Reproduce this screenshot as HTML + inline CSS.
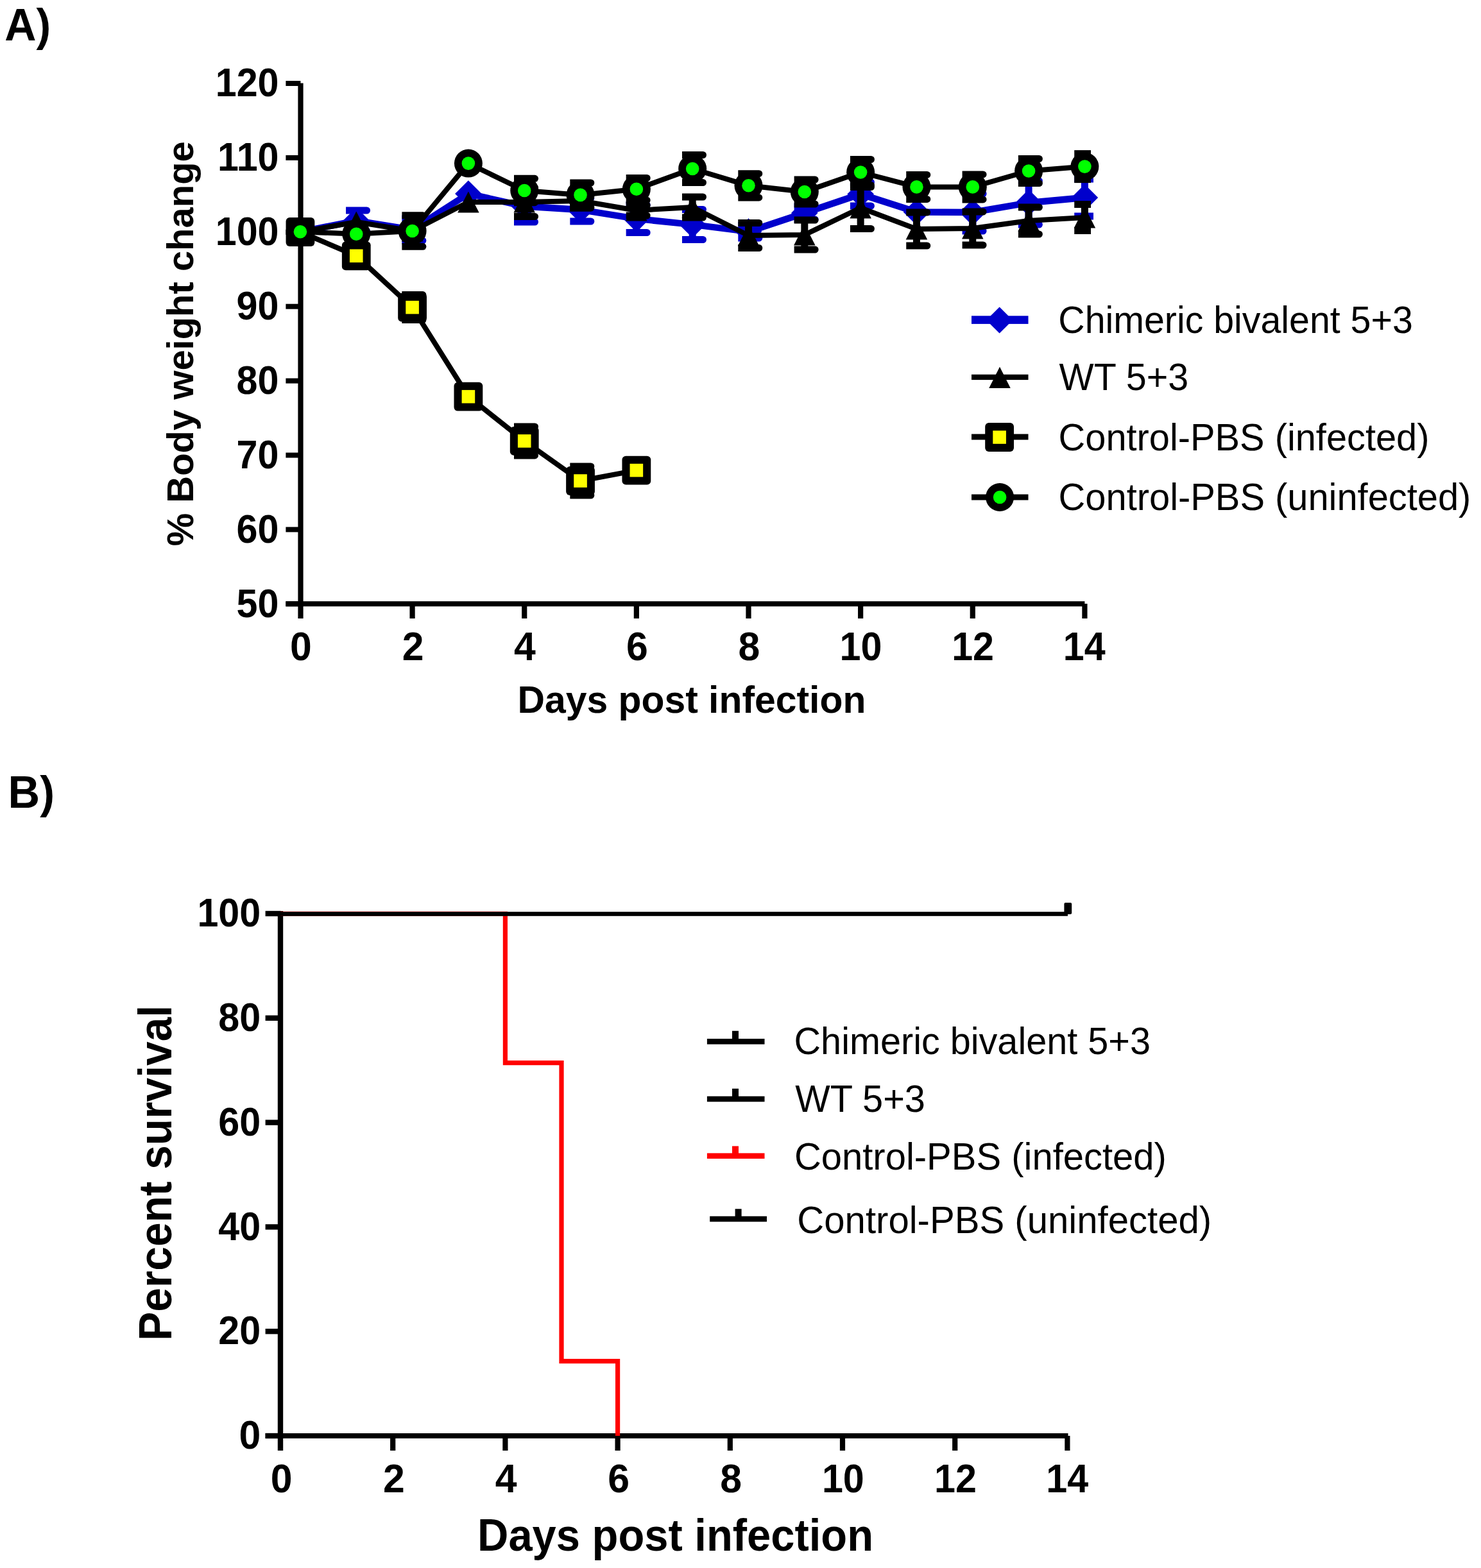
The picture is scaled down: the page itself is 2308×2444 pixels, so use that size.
<!DOCTYPE html>
<html><head><meta charset="utf-8"><title>Body weight and survival</title>
<style>html,body{margin:0;padding:0;background:#fff;}svg{display:block;}text{font-family:"Liberation Sans",Arial,sans-serif;fill:#000;}.b{font-weight:bold;}</style></head><body>
<svg width="2308" height="2444" viewBox="0 0 2308 2444">
<rect width="2308" height="2444" fill="#fff"/>
<text class="b" font-size="70" transform="translate(7.3 62.7) scale(0.9738 1)">A)</text>
<g fill="#000">
<rect x="464.4" y="129.6" width="8.2" height="834.4"/>
<rect x="445.4" y="937.2" width="1245" height="8"/>
<rect x="445.4" y="126" width="23" height="8"/>
<rect x="445.4" y="241.9" width="23" height="8"/>
<rect x="445.4" y="357.8" width="23" height="8"/>
<rect x="445.4" y="473.7" width="23" height="8"/>
<rect x="445.4" y="589.6" width="23" height="8"/>
<rect x="445.4" y="705.5" width="23" height="8"/>
<rect x="445.4" y="821.4" width="23" height="8"/>
<rect x="445.4" y="937.3" width="23" height="8"/>
<rect x="638.48" y="941" width="8.2" height="23"/>
<rect x="813.12" y="941" width="8.2" height="23"/>
<rect x="987.76" y="941" width="8.2" height="23"/>
<rect x="1162.4" y="941" width="8.2" height="23"/>
<rect x="1337.04" y="941" width="8.2" height="23"/>
<rect x="1511.68" y="941" width="8.2" height="23"/>
<rect x="1686.32" y="941" width="8.2" height="23"/>
</g>
<text class="b" font-size="63.5" transform="translate(335.73 150.3) scale(0.9325 1)">120</text>
<text class="b" font-size="63.5" transform="translate(338.99 266.2) scale(0.9325 1)">110</text>
<text class="b" font-size="63.5" transform="translate(335.73 382.1) scale(0.9325 1)">100</text>
<text class="b" font-size="63.5" transform="translate(368.59 498) scale(0.9325 1)">90</text>
<text class="b" font-size="63.5" transform="translate(368.59 613.9) scale(0.9325 1)">80</text>
<text class="b" font-size="63.5" transform="translate(368.59 729.8) scale(0.9325 1)">70</text>
<text class="b" font-size="63.5" transform="translate(368.59 845.7) scale(0.9325 1)">60</text>
<text class="b" font-size="63.5" transform="translate(368.59 961.6) scale(0.9325 1)">50</text>
<text class="b" font-size="63.5" transform="translate(452.08 1029.4) scale(0.9570 1)">0</text>
<text class="b" font-size="63.5" transform="translate(626.87 1029.4) scale(0.9570 1)">2</text>
<text class="b" font-size="63.5" transform="translate(801.05 1029.4) scale(0.9570 1)">4</text>
<text class="b" font-size="63.5" transform="translate(975.92 1029.4) scale(0.9570 1)">6</text>
<text class="b" font-size="63.5" transform="translate(1150.56 1029.4) scale(0.9570 1)">8</text>
<text class="b" font-size="63.5" transform="translate(1308.54 1029.4) scale(0.9325 1)">10</text>
<text class="b" font-size="63.5" transform="translate(1483.18 1029.4) scale(0.9325 1)">12</text>
<text class="b" font-size="63.5" transform="translate(1656.78 1029.4) scale(0.9325 1)">14</text>
<text class="b" font-size="58" transform="translate(300.5 851.25) rotate(-90) scale(0.9991 1)">% Body weight change</text>
<text class="b" font-size="59.8" transform="translate(806.43 1111) scale(0.9846 1)">Days post infection</text>
<g>
<rect x="549.76" y="328" width="11" height="32" fill="#0000cc"/>
<path d="M539.06 322.5H571.56A5.5 5.5 0 0 1 571.56 333.5H539.06Z" fill="#0000cc"/>
<path d="M539.06 354.5H571.56A5.5 5.5 0 0 1 571.56 365.5H539.06Z" fill="#0000cc"/>
<rect x="637.08" y="341" width="11" height="34" fill="#0000cc"/>
<path d="M626.38 335.5H658.88A5.5 5.5 0 0 1 658.88 346.5H626.38Z" fill="#0000cc"/>
<path d="M626.38 369.5H658.88A5.5 5.5 0 0 1 658.88 380.5H626.38Z" fill="#0000cc"/>
<rect x="811.72" y="297" width="11" height="49" fill="#0000cc"/>
<path d="M801.02 291.5H833.52A5.5 5.5 0 0 1 833.52 302.5H801.02Z" fill="#0000cc"/>
<path d="M801.02 340.5H833.52A5.5 5.5 0 0 1 833.52 351.5H801.02Z" fill="#0000cc"/>
<rect x="899.04" y="309" width="11" height="36" fill="#0000cc"/>
<path d="M888.34 303.5H920.84A5.5 5.5 0 0 1 920.84 314.5H888.34Z" fill="#0000cc"/>
<path d="M888.34 339.5H920.84A5.5 5.5 0 0 1 920.84 350.5H888.34Z" fill="#0000cc"/>
<rect x="986.36" y="319.5" width="11" height="43" fill="#0000cc"/>
<path d="M975.66 314H1008.16A5.5 5.5 0 0 1 1008.16 325H975.66Z" fill="#0000cc"/>
<path d="M975.66 357H1008.16A5.5 5.5 0 0 1 1008.16 368H975.66Z" fill="#0000cc"/>
<rect x="1073.68" y="326.5" width="11" height="47" fill="#0000cc"/>
<path d="M1062.98 321H1095.48A5.5 5.5 0 0 1 1095.48 332H1062.98Z" fill="#0000cc"/>
<path d="M1062.98 368H1095.48A5.5 5.5 0 0 1 1095.48 379H1062.98Z" fill="#0000cc"/>
<rect x="1161" y="351" width="11" height="20" fill="#0000cc"/>
<path d="M1150.3 345.5H1182.8A5.5 5.5 0 0 1 1182.8 356.5H1150.3Z" fill="#0000cc"/>
<path d="M1150.3 365.5H1182.8A5.5 5.5 0 0 1 1182.8 376.5H1150.3Z" fill="#0000cc"/>
<rect x="1248.32" y="322" width="11" height="20" fill="#0000cc"/>
<path d="M1237.62 316.5H1270.12A5.5 5.5 0 0 1 1270.12 327.5H1237.62Z" fill="#0000cc"/>
<path d="M1237.62 336.5H1270.12A5.5 5.5 0 0 1 1270.12 347.5H1237.62Z" fill="#0000cc"/>
<rect x="1335.64" y="284" width="11" height="37" fill="#0000cc"/>
<path d="M1324.94 278.5H1357.44A5.5 5.5 0 0 1 1357.44 289.5H1324.94Z" fill="#0000cc"/>
<path d="M1324.94 315.5H1357.44A5.5 5.5 0 0 1 1357.44 326.5H1324.94Z" fill="#0000cc"/>
<rect x="1510.28" y="302" width="11" height="58" fill="#0000cc"/>
<path d="M1499.58 296.5H1532.08A5.5 5.5 0 0 1 1532.08 307.5H1499.58Z" fill="#0000cc"/>
<path d="M1499.58 354.5H1532.08A5.5 5.5 0 0 1 1532.08 365.5H1499.58Z" fill="#0000cc"/>
<rect x="1597.6" y="282" width="11" height="68" fill="#0000cc"/>
<path d="M1586.9 276.5H1619.4A5.5 5.5 0 0 1 1619.4 287.5H1586.9Z" fill="#0000cc"/>
<path d="M1586.9 344.5H1619.4A5.5 5.5 0 0 1 1619.4 355.5H1586.9Z" fill="#0000cc"/>
<rect x="1684.92" y="279" width="11" height="58" fill="#0000cc"/>
<rect x="1674.22" y="273.5" width="29.78" height="11" fill="#0000cc"/>
<rect x="1674.22" y="331.5" width="29.78" height="11" fill="#0000cc"/>
<polyline points="467.94,361.5 555.26,344 642.58,358 729.9,302 817.22,321.5 904.54,327 991.86,341 1079.18,350 1166.5,361 1253.82,332 1341.14,302.5 1428.46,330.5 1515.78,331 1603.1,316 1690.42,308" fill="none" stroke="#0000cc" stroke-width="10.3" stroke-linejoin="round"/>
<path d="M467.94 340.7L488.74 361.5L467.94 382.3L447.14 361.5Z" fill="#0000cc"/>
<path d="M555.26 323.2L576.06 344L555.26 364.8L534.46 344Z" fill="#0000cc"/>
<path d="M642.58 337.2L663.38 358L642.58 378.8L621.78 358Z" fill="#0000cc"/>
<path d="M729.9 281.2L750.7 302L729.9 322.8L709.1 302Z" fill="#0000cc"/>
<path d="M817.22 300.7L838.02 321.5L817.22 342.3L796.42 321.5Z" fill="#0000cc"/>
<path d="M904.54 306.2L925.34 327L904.54 347.8L883.74 327Z" fill="#0000cc"/>
<path d="M991.86 320.2L1012.66 341L991.86 361.8L971.06 341Z" fill="#0000cc"/>
<path d="M1079.18 329.2L1099.98 350L1079.18 370.8L1058.38 350Z" fill="#0000cc"/>
<path d="M1166.5 340.2L1187.3 361L1166.5 381.8L1145.7 361Z" fill="#0000cc"/>
<path d="M1253.82 311.2L1274.62 332L1253.82 352.8L1233.02 332Z" fill="#0000cc"/>
<path d="M1341.14 281.7L1361.94 302.5L1341.14 323.3L1320.34 302.5Z" fill="#0000cc"/>
<path d="M1428.46 309.7L1449.26 330.5L1428.46 351.3L1407.66 330.5Z" fill="#0000cc"/>
<path d="M1515.78 310.2L1536.58 331L1515.78 351.8L1494.98 331Z" fill="#0000cc"/>
<path d="M1603.1 295.2L1623.9 316L1603.1 336.8L1582.3 316Z" fill="#0000cc"/>
<path d="M1690.42 287.2L1711.22 308L1690.42 328.8L1669.62 308Z" fill="#0000cc"/>
</g>
<g>
<rect x="637.08" y="335.7" width="11" height="48.6" fill="#000"/>
<path d="M626.38 330.2H658.88A5.5 5.5 0 0 1 658.88 341.2H626.38Z" fill="#000"/>
<path d="M626.38 378.8H658.88A5.5 5.5 0 0 1 658.88 389.8H626.38Z" fill="#000"/>
<rect x="811.72" y="292.5" width="11" height="45" fill="#000"/>
<path d="M801.02 287H833.52A5.5 5.5 0 0 1 833.52 298H801.02Z" fill="#000"/>
<path d="M801.02 332H833.52A5.5 5.5 0 0 1 833.52 343H801.02Z" fill="#000"/>
<rect x="899.04" y="302" width="11" height="22" fill="#000"/>
<path d="M888.34 296.5H920.84A5.5 5.5 0 0 1 920.84 307.5H888.34Z" fill="#000"/>
<path d="M888.34 318.5H920.84A5.5 5.5 0 0 1 920.84 329.5H888.34Z" fill="#000"/>
<rect x="986.36" y="320" width="11" height="16" fill="#000"/>
<path d="M975.66 314.5H1008.16A5.5 5.5 0 0 1 1008.16 325.5H975.66Z" fill="#000"/>
<path d="M975.66 330.5H1008.16A5.5 5.5 0 0 1 1008.16 341.5H975.66Z" fill="#000"/>
<rect x="1073.68" y="307" width="11" height="32" fill="#000"/>
<path d="M1062.98 301.5H1095.48A5.5 5.5 0 0 1 1095.48 312.5H1062.98Z" fill="#000"/>
<path d="M1062.98 333.5H1095.48A5.5 5.5 0 0 1 1095.48 344.5H1062.98Z" fill="#000"/>
<rect x="1161" y="347.5" width="11" height="39" fill="#000"/>
<path d="M1150.3 342H1182.8A5.5 5.5 0 0 1 1182.8 353H1150.3Z" fill="#000"/>
<path d="M1150.3 381H1182.8A5.5 5.5 0 0 1 1182.8 392H1150.3Z" fill="#000"/>
<rect x="1248.32" y="343" width="11" height="46" fill="#000"/>
<path d="M1237.62 337.5H1270.12A5.5 5.5 0 0 1 1270.12 348.5H1237.62Z" fill="#000"/>
<path d="M1237.62 383.5H1270.12A5.5 5.5 0 0 1 1270.12 394.5H1237.62Z" fill="#000"/>
<rect x="1335.64" y="291.5" width="11" height="65" fill="#000"/>
<path d="M1324.94 286H1357.44A5.5 5.5 0 0 1 1357.44 297H1324.94Z" fill="#000"/>
<path d="M1324.94 351H1357.44A5.5 5.5 0 0 1 1357.44 362H1324.94Z" fill="#000"/>
<rect x="1422.96" y="331" width="11" height="52" fill="#000"/>
<path d="M1412.26 325.5H1444.76A5.5 5.5 0 0 1 1444.76 336.5H1412.26Z" fill="#000"/>
<path d="M1412.26 377.5H1444.76A5.5 5.5 0 0 1 1444.76 388.5H1412.26Z" fill="#000"/>
<rect x="1510.28" y="330" width="11" height="52" fill="#000"/>
<path d="M1499.58 324.5H1532.08A5.5 5.5 0 0 1 1532.08 335.5H1499.58Z" fill="#000"/>
<path d="M1499.58 376.5H1532.08A5.5 5.5 0 0 1 1532.08 387.5H1499.58Z" fill="#000"/>
<rect x="1597.6" y="323" width="11" height="42" fill="#000"/>
<path d="M1586.9 317.5H1619.4A5.5 5.5 0 0 1 1619.4 328.5H1586.9Z" fill="#000"/>
<path d="M1586.9 359.5H1619.4A5.5 5.5 0 0 1 1619.4 370.5H1586.9Z" fill="#000"/>
<rect x="1684.92" y="318.5" width="11" height="41" fill="#000"/>
<rect x="1674.22" y="313" width="25.78" height="11" fill="#000"/>
<rect x="1674.22" y="354" width="25.78" height="11" fill="#000"/>
<polyline points="467.94,361.5 555.26,346 642.58,360 729.9,315 817.22,315 904.54,313 991.86,328 1079.18,323 1166.5,367 1253.82,366 1341.14,324 1428.46,357 1515.78,356 1603.1,344 1690.42,339" fill="none" stroke="#000" stroke-width="8" stroke-linejoin="round"/>
<path d="M467.94 345L484.69 378L451.19 378Z" fill="#000"/>
<path d="M555.26 329.5L572.01 362.5L538.51 362.5Z" fill="#000"/>
<path d="M642.58 343.5L659.33 376.5L625.83 376.5Z" fill="#000"/>
<path d="M729.9 298.5L746.65 331.5L713.15 331.5Z" fill="#000"/>
<path d="M817.22 298.5L833.97 331.5L800.47 331.5Z" fill="#000"/>
<path d="M904.54 296.5L921.29 329.5L887.79 329.5Z" fill="#000"/>
<path d="M991.86 311.5L1008.61 344.5L975.11 344.5Z" fill="#000"/>
<path d="M1079.18 306.5L1095.93 339.5L1062.43 339.5Z" fill="#000"/>
<path d="M1166.5 350.5L1183.25 383.5L1149.75 383.5Z" fill="#000"/>
<path d="M1253.82 349.5L1270.57 382.5L1237.07 382.5Z" fill="#000"/>
<path d="M1341.14 307.5L1357.89 340.5L1324.39 340.5Z" fill="#000"/>
<path d="M1428.46 340.5L1445.21 373.5L1411.71 373.5Z" fill="#000"/>
<path d="M1515.78 339.5L1532.53 372.5L1499.03 372.5Z" fill="#000"/>
<path d="M1603.1 327.5L1619.85 360.5L1586.35 360.5Z" fill="#000"/>
<path d="M1690.42 322.5L1707.17 355.5L1673.67 355.5Z" fill="#000"/>
</g>
<g>
<rect x="549.76" y="390.8" width="11" height="16" fill="#000"/>
<path d="M539.06 385.3H571.56A5.5 5.5 0 0 1 571.56 396.3H539.06Z" fill="#000"/>
<path d="M539.06 401.3H571.56A5.5 5.5 0 0 1 571.56 412.3H539.06Z" fill="#000"/>
<rect x="637.08" y="459.6" width="11" height="39" fill="#000"/>
<path d="M626.38 454.1H658.88A5.5 5.5 0 0 1 658.88 465.1H626.38Z" fill="#000"/>
<path d="M626.38 493.1H658.88A5.5 5.5 0 0 1 658.88 504.1H626.38Z" fill="#000"/>
<rect x="724.4" y="608.2" width="11" height="20" fill="#000"/>
<path d="M713.7 602.7H746.2A5.5 5.5 0 0 1 746.2 613.7H713.7Z" fill="#000"/>
<path d="M713.7 622.7H746.2A5.5 5.5 0 0 1 746.2 633.7H713.7Z" fill="#000"/>
<rect x="811.72" y="664.9" width="11" height="45" fill="#000"/>
<path d="M801.02 659.4H833.52A5.5 5.5 0 0 1 833.52 670.4H801.02Z" fill="#000"/>
<path d="M801.02 704.4H833.52A5.5 5.5 0 0 1 833.52 715.4H801.02Z" fill="#000"/>
<rect x="899.04" y="727" width="11" height="45" fill="#000"/>
<path d="M888.34 721.5H920.84A5.5 5.5 0 0 1 920.84 732.5H888.34Z" fill="#000"/>
<path d="M888.34 766.5H920.84A5.5 5.5 0 0 1 920.84 777.5H888.34Z" fill="#000"/>
<polyline points="467.94,361.5 555.26,398.8 642.58,479.1 729.9,618.2 817.22,687.4 904.54,749.5 991.86,733.1" fill="none" stroke="#000" stroke-width="8" stroke-linejoin="round"/>
<rect x="445.54" y="339.1" width="44.8" height="44.8" rx="5.8" fill="#000"/>
<rect x="457.64" y="351.2" width="20.6" height="20.6" fill="#ffff00"/>
<rect x="532.86" y="376.4" width="44.8" height="44.8" rx="5.8" fill="#000"/>
<rect x="544.96" y="388.5" width="20.6" height="20.6" fill="#ffff00"/>
<rect x="620.18" y="456.7" width="44.8" height="44.8" rx="5.8" fill="#000"/>
<rect x="632.28" y="468.8" width="20.6" height="20.6" fill="#ffff00"/>
<rect x="707.5" y="595.8" width="44.8" height="44.8" rx="5.8" fill="#000"/>
<rect x="719.6" y="607.9" width="20.6" height="20.6" fill="#ffff00"/>
<rect x="794.82" y="665" width="44.8" height="44.8" rx="5.8" fill="#000"/>
<rect x="806.92" y="677.1" width="20.6" height="20.6" fill="#ffff00"/>
<rect x="882.14" y="727.1" width="44.8" height="44.8" rx="5.8" fill="#000"/>
<rect x="894.24" y="739.2" width="20.6" height="20.6" fill="#ffff00"/>
<rect x="969.46" y="710.7" width="44.8" height="44.8" rx="5.8" fill="#000"/>
<rect x="981.56" y="722.8" width="20.6" height="20.6" fill="#ffff00"/>
</g>
<g>
<rect x="811.72" y="278.3" width="11" height="37.4" fill="#000"/>
<path d="M801.02 272.8H833.52A5.5 5.5 0 0 1 833.52 283.8H801.02Z" fill="#000"/>
<path d="M801.02 310.2H833.52A5.5 5.5 0 0 1 833.52 321.2H801.02Z" fill="#000"/>
<rect x="899.04" y="285" width="11" height="37.8" fill="#000"/>
<path d="M888.34 279.5H920.84A5.5 5.5 0 0 1 920.84 290.5H888.34Z" fill="#000"/>
<path d="M888.34 317.3H920.84A5.5 5.5 0 0 1 920.84 328.3H888.34Z" fill="#000"/>
<rect x="986.36" y="277.5" width="11" height="34.6" fill="#000"/>
<path d="M975.66 272H1008.16A5.5 5.5 0 0 1 1008.16 283H975.66Z" fill="#000"/>
<path d="M975.66 306.6H1008.16A5.5 5.5 0 0 1 1008.16 317.6H975.66Z" fill="#000"/>
<rect x="1073.68" y="241.5" width="11" height="43" fill="#000"/>
<path d="M1062.98 236H1095.48A5.5 5.5 0 0 1 1095.48 247H1062.98Z" fill="#000"/>
<path d="M1062.98 279H1095.48A5.5 5.5 0 0 1 1095.48 290H1062.98Z" fill="#000"/>
<rect x="1161" y="270.7" width="11" height="37.2" fill="#000"/>
<path d="M1150.3 265.2H1182.8A5.5 5.5 0 0 1 1182.8 276.2H1150.3Z" fill="#000"/>
<path d="M1150.3 302.4H1182.8A5.5 5.5 0 0 1 1182.8 313.4H1150.3Z" fill="#000"/>
<rect x="1248.32" y="280" width="11" height="38" fill="#000"/>
<path d="M1237.62 274.5H1270.12A5.5 5.5 0 0 1 1270.12 285.5H1237.62Z" fill="#000"/>
<path d="M1237.62 312.5H1270.12A5.5 5.5 0 0 1 1270.12 323.5H1237.62Z" fill="#000"/>
<rect x="1335.64" y="248.5" width="11" height="40" fill="#000"/>
<path d="M1324.94 243H1357.44A5.5 5.5 0 0 1 1357.44 254H1324.94Z" fill="#000"/>
<path d="M1324.94 283H1357.44A5.5 5.5 0 0 1 1357.44 294H1324.94Z" fill="#000"/>
<rect x="1422.96" y="272.4" width="11" height="38" fill="#000"/>
<path d="M1412.26 266.9H1444.76A5.5 5.5 0 0 1 1444.76 277.9H1412.26Z" fill="#000"/>
<path d="M1412.26 304.9H1444.76A5.5 5.5 0 0 1 1444.76 315.9H1412.26Z" fill="#000"/>
<rect x="1510.28" y="271.9" width="11" height="39" fill="#000"/>
<path d="M1499.58 266.4H1532.08A5.5 5.5 0 0 1 1532.08 277.4H1499.58Z" fill="#000"/>
<path d="M1499.58 305.4H1532.08A5.5 5.5 0 0 1 1532.08 316.4H1499.58Z" fill="#000"/>
<rect x="1597.6" y="247.5" width="11" height="38" fill="#000"/>
<path d="M1586.9 242H1619.4A5.5 5.5 0 0 1 1619.4 253H1586.9Z" fill="#000"/>
<path d="M1586.9 280H1619.4A5.5 5.5 0 0 1 1619.4 291H1586.9Z" fill="#000"/>
<rect x="1684.92" y="239.6" width="11" height="40" fill="#000"/>
<rect x="1674.22" y="234.1" width="25.78" height="11" fill="#000"/>
<rect x="1674.22" y="274.1" width="25.78" height="11" fill="#000"/>
<polyline points="467.94,361.3 555.26,364.7 642.58,360 729.9,254.6 817.22,297 904.54,303.9 991.86,294.8 1079.18,263 1166.5,289.3 1253.82,299 1341.14,268.5 1428.46,291.4 1515.78,291.4 1603.1,266.5 1690.42,259.6" fill="none" stroke="#000" stroke-width="8" stroke-linejoin="round"/>
<circle cx="467.94" cy="361.3" r="22" fill="#000"/>
<circle cx="467.94" cy="361.3" r="10.3" fill="#00ff00"/>
<circle cx="555.26" cy="364.7" r="22" fill="#000"/>
<circle cx="555.26" cy="364.7" r="10.3" fill="#00ff00"/>
<circle cx="642.58" cy="360" r="22" fill="#000"/>
<circle cx="642.58" cy="360" r="10.3" fill="#00ff00"/>
<circle cx="729.9" cy="254.6" r="22" fill="#000"/>
<circle cx="729.9" cy="254.6" r="10.3" fill="#00ff00"/>
<circle cx="817.22" cy="297" r="22" fill="#000"/>
<circle cx="817.22" cy="297" r="10.3" fill="#00ff00"/>
<circle cx="904.54" cy="303.9" r="22" fill="#000"/>
<circle cx="904.54" cy="303.9" r="10.3" fill="#00ff00"/>
<circle cx="991.86" cy="294.8" r="22" fill="#000"/>
<circle cx="991.86" cy="294.8" r="10.3" fill="#00ff00"/>
<circle cx="1079.18" cy="263" r="22" fill="#000"/>
<circle cx="1079.18" cy="263" r="10.3" fill="#00ff00"/>
<circle cx="1166.5" cy="289.3" r="22" fill="#000"/>
<circle cx="1166.5" cy="289.3" r="10.3" fill="#00ff00"/>
<circle cx="1253.82" cy="299" r="22" fill="#000"/>
<circle cx="1253.82" cy="299" r="10.3" fill="#00ff00"/>
<circle cx="1341.14" cy="268.5" r="22" fill="#000"/>
<circle cx="1341.14" cy="268.5" r="10.3" fill="#00ff00"/>
<circle cx="1428.46" cy="291.4" r="22" fill="#000"/>
<circle cx="1428.46" cy="291.4" r="10.3" fill="#00ff00"/>
<circle cx="1515.78" cy="291.4" r="22" fill="#000"/>
<circle cx="1515.78" cy="291.4" r="10.3" fill="#00ff00"/>
<circle cx="1603.1" cy="266.5" r="22" fill="#000"/>
<circle cx="1603.1" cy="266.5" r="10.3" fill="#00ff00"/>
<circle cx="1690.42" cy="259.6" r="22" fill="#000"/>
<circle cx="1690.42" cy="259.6" r="10.3" fill="#00ff00"/>
</g>
<rect x="1514" y="492.3" width="88.5" height="12.6" fill="#0000cc"/>
<path d="M1557.6 478.4L1578.2 499L1557.6 519.6L1537 499Z" fill="#0000cc"/>
<rect x="1514" y="583.7" width="88.5" height="8.4" fill="#000"/>
<path d="M1558 571.7L1574.75 605.1L1541.25 605.1Z" fill="#000"/>
<rect x="1514" y="676.5" width="88.5" height="9" fill="#000"/>
<rect x="1535.2" y="659.1" width="44.8" height="44.8" rx="5.8" fill="#000"/>
<rect x="1547.3" y="671.2" width="20.6" height="20.6" fill="#ffff00"/>
<rect x="1514" y="770.5" width="88.5" height="9" fill="#000"/>
<circle cx="1558.1" cy="775" r="22" fill="#000"/>
<circle cx="1558.1" cy="775" r="10.3" fill="#00ff00"/>
<text font-size="59" transform="translate(1649.33 518.8) scale(0.9713 1)">Chimeric bivalent 5+3</text>
<text font-size="59" transform="translate(1650.61 607.5) scale(0.9736 1)">WT 5+3</text>
<text font-size="59" transform="translate(1649.61 702.2) scale(0.9792 1)">Control-PBS (infected)</text>
<text font-size="59" transform="translate(1649.61 795) scale(0.9803 1)">Control-PBS (uninfected)</text>
<text class="b" font-size="70" transform="translate(12.56 1259) scale(0.9813 1)">B)</text>
<g fill="#000">
<rect x="432.8" y="1420" width="8.4" height="841"/>
<rect x="413.6" y="2234" width="1250.9" height="8"/>
<rect x="413.6" y="2233.8" width="24" height="8.4"/>
<rect x="413.6" y="2071" width="24" height="8.4"/>
<rect x="413.6" y="1908.2" width="24" height="8.4"/>
<rect x="413.6" y="1745.4" width="24" height="8.4"/>
<rect x="413.6" y="1582.6" width="24" height="8.4"/>
<rect x="413.6" y="1419.8" width="24" height="8.4"/>
<rect x="608.1" y="2238" width="8.2" height="23"/>
<rect x="783.3" y="2238" width="8.2" height="23"/>
<rect x="958.5" y="2238" width="8.2" height="23"/>
<rect x="1133.7" y="2238" width="8.2" height="23"/>
<rect x="1308.9" y="2238" width="8.2" height="23"/>
<rect x="1484.1" y="2238" width="8.2" height="23"/>
<rect x="1659.3" y="2238" width="8.2" height="23"/>
</g>
<text class="b" font-size="63.5" transform="translate(372.5 2258.1) scale(0.9570 1)">0</text>
<text class="b" font-size="63.5" transform="translate(340.29 2095.3) scale(0.9325 1)">20</text>
<text class="b" font-size="63.5" transform="translate(340.29 1932.5) scale(0.9325 1)">40</text>
<text class="b" font-size="63.5" transform="translate(340.29 1769.7) scale(0.9325 1)">60</text>
<text class="b" font-size="63.5" transform="translate(340.29 1606.9) scale(0.9325 1)">80</text>
<text class="b" font-size="63.5" transform="translate(307.43 1444.1) scale(0.9325 1)">100</text>
<text class="b" font-size="63.5" transform="translate(421.64 2326.4) scale(0.9570 1)">0</text>
<text class="b" font-size="63.5" transform="translate(596.99 2326.4) scale(0.9570 1)">2</text>
<text class="b" font-size="63.5" transform="translate(771.73 2326.4) scale(0.9570 1)">4</text>
<text class="b" font-size="63.5" transform="translate(947.16 2326.4) scale(0.9570 1)">6</text>
<text class="b" font-size="63.5" transform="translate(1122.36 2326.4) scale(0.9570 1)">8</text>
<text class="b" font-size="63.5" transform="translate(1280.9 2326.4) scale(0.9325 1)">10</text>
<text class="b" font-size="63.5" transform="translate(1456.1 2326.4) scale(0.9325 1)">12</text>
<text class="b" font-size="63.5" transform="translate(1630.26 2326.4) scale(0.9325 1)">14</text>
<text class="b" font-size="71.6" transform="translate(267 2089.87) rotate(-90) scale(0.9456 1)">Percent survival</text>
<text class="b" font-size="71.3" transform="translate(744.08 2416.8) scale(0.9382 1)">Days post infection</text>
<polyline points="437,1424.3 787.4,1424.3 787.4,1656.57 875,1656.57 875,2121.71 962.6,2121.71 962.6,2238" fill="none" stroke="#ff0000" stroke-width="7.2"/>
<rect x="437" y="1421.2" width="1227" height="6.6" fill="#000"/>
<rect x="1658.4" y="1407" width="11.8" height="18" rx="2" fill="#000"/>
<rect x="1101.9" y="1619.1" width="89.6" height="8.6" fill="#000"/>
<rect x="1141" y="1606.8" width="10" height="16.6" fill="#000"/>
<text font-size="59" transform="translate(1237.52 1643.1) scale(0.9765 1)">Chimeric bivalent 5+3</text>
<rect x="1101.9" y="1708.7" width="89.6" height="8.6" fill="#000"/>
<rect x="1141" y="1696.8" width="10" height="16.2" fill="#000"/>
<text font-size="59" transform="translate(1239.31 1732.6) scale(0.9785 1)">WT 5+3</text>
<rect x="1101.9" y="1797.4" width="89.6" height="8.6" fill="#ff0000"/>
<rect x="1141" y="1786.4" width="10" height="15.3" fill="#ff0000"/>
<text font-size="59" transform="translate(1237.9 1822.5) scale(0.9829 1)">Control-PBS (infected)</text>
<rect x="1106.2" y="1895.7" width="88.8" height="8.6" fill="#000"/>
<rect x="1145.6" y="1884.3" width="10" height="15.7" fill="#000"/>
<text font-size="59" transform="translate(1242.29 1921.5) scale(0.9851 1)">Control-PBS (uninfected)</text>
</svg>
</body></html>
